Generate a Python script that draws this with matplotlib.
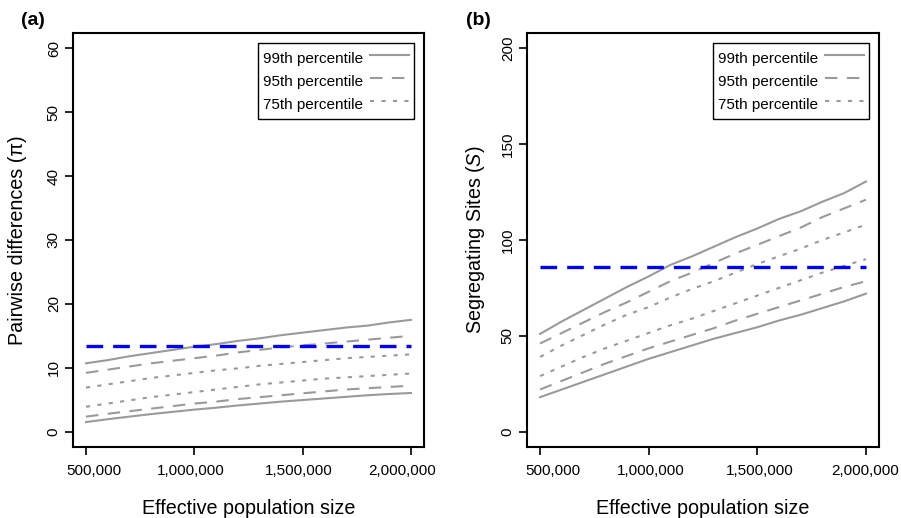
import matplotlib
matplotlib.use("Agg")
import matplotlib.pyplot as plt
import matplotlib.transforms as mtransforms
from matplotlib.lines import Line2D
from matplotlib.ticker import FuncFormatter

plt.rcParams['font.family'] = ['Liberation Sans', 'DejaVu Sans']
plt.rcParams['mathtext.fontset'] = 'custom'
plt.rcParams['mathtext.it'] = 'Liberation Sans:italic'
plt.rcParams['mathtext.rm'] = 'Liberation Sans'

# ---------------- data ----------------
ne = [500000, 600000, 700000, 800000, 900000, 1000000, 1100000, 1200000,
      1300000, 1400000, 1500000, 1600000, 1700000, 1800000, 1900000, 2000000]

# Panel (a): pairwise differences (pi)
pi_99_hi = [10.7, 11.2, 11.8, 12.3, 12.8, 13.3, 13.7, 14.2, 14.6, 15.1, 15.5, 15.9, 16.3, 16.6, 17.1, 17.5]
pi_95_hi = [9.2, 9.7, 10.2, 10.7, 11.1, 11.5, 11.9, 12.4, 12.8, 13.2, 13.5, 13.8, 14.1, 14.4, 14.7, 15.0]
pi_75_hi = [6.9, 7.4, 7.9, 8.4, 8.8, 9.2, 9.6, 9.9, 10.3, 10.6, 10.9, 11.2, 11.5, 11.7, 11.9, 12.1]
pi_75_lo = [3.9, 4.4, 4.9, 5.4, 5.8, 6.2, 6.6, 7.0, 7.4, 7.7, 8.0, 8.3, 8.5, 8.7, 8.9, 9.1]
pi_95_lo = [2.35, 2.8, 3.2, 3.6, 4.0, 4.4, 4.7, 5.1, 5.4, 5.7, 6.0, 6.3, 6.6, 6.8, 7.0, 7.2]
pi_99_lo = [1.5, 1.95, 2.35, 2.75, 3.1, 3.45, 3.75, 4.1, 4.4, 4.7, 4.95, 5.2, 5.45, 5.7, 5.9, 6.05]
pi_observed = 13.4

# Panel (b): segregating sites (S)
s_99_hi = [51, 57.5, 63.5, 69.5, 75.5, 81, 87, 91.5, 96.5, 101.5, 106, 111, 115, 120, 124.5, 130.5]
s_95_hi = [46, 51.5, 57, 62.5, 67.5, 73, 78.5, 83, 88, 93, 97.5, 102, 106.5, 112, 116.5, 121]
s_75_hi = [39, 45, 50.5, 56, 61, 65, 70, 74.5, 78.5, 83, 87.5, 91.5, 95.5, 100, 104, 108]
s_75_lo = [29, 34, 39, 43.5, 47.5, 51.5, 55.5, 59, 63, 67, 71, 75, 79, 83, 86.5, 90]
s_95_lo = [22, 26.5, 31, 35.5, 39.5, 43.5, 47, 50.5, 54, 58, 61.5, 65, 68.5, 72, 75.5, 78.5]
s_99_lo = [18, 22, 26, 30, 34, 38, 41.5, 45, 48.5, 51.5, 54.5, 58, 61, 64.5, 68, 72]
s_observed = 86

legend_labels = ["99th percentile", "95th percentile", "75th percentile"]
xticks = [500000, 1000000, 1500000, 2000000]

# ---------------- style ----------------
GRAY = "#9a9a9a"
BLUE = "#0000ff"
LW = 1.5
ST_SOLID = '-'
ST_DASH = (0, (6, 4.5))
ST_DOT = (0, (2, 3.5))

fig = plt.figure(figsize=(9.01, 5.18), dpi=100)
ax_a = fig.add_axes([73/901, 1-447/518, (424-73)/901, (447-33)/518])
ax_b = fig.add_axes([527/901, 1-447/518, (879-527)/901, (447-33)/518])

def style_axes(ax, ylim, yticks, ylabel, panel, ylab_x, panel_x, xlab_shift):
    ax.set_xlim(440000, 2060000)
    ax.set_ylim(*ylim)
    ax.set_xticks(xticks)
    ax.xaxis.set_major_formatter(FuncFormatter(lambda v, p: f"{int(v):,}"))
    ax.set_yticks(yticks)
    for s in ax.spines.values():
        s.set_linewidth(1.5)
    ax.tick_params(axis='both', length=5.8, width=1.2, labelsize=11)
    ax.tick_params(axis='x', pad=6.5)
    ax.tick_params(axis='y', pad=3)
    for lab in ax.get_yticklabels():
        lab.set_rotation(90)
        lab.set_va('center')
    for lab, dx in zip(ax.get_xticklabels(), xlab_shift):
        lab.set_transform(lab.get_transform() +
                          mtransforms.ScaledTranslation(dx / 100, 0, fig.dpi_scale_trans))
    ax.set_xlabel("Effective population size", fontsize=14.2, labelpad=15)
    ax.set_ylabel(ylabel, fontsize=14.2)
    ax.yaxis.label.set_va('center')
    ax.yaxis.set_label_coords(ylab_x, 0.5)
    ax.text(panel_x, 1.031, panel, transform=ax.transAxes, fontsize=14,
            fontweight='bold', ha='left', va='center')
    handles = [Line2D([], [], color=GRAY, lw=LW, ls=st) for st in (ST_SOLID, ST_DASH, ST_DOT)]
    leg = ax.legend(handles, legend_labels, loc='upper right', fontsize=11,
                    markerfirst=False, frameon=True, fancybox=False,
                    edgecolor='black', framealpha=1, handlelength=2.6,
                    handleheight=1.85, handletextpad=0.45, labelspacing=0.03,
                    borderpad=0.3, borderaxespad=0.65)
    leg.get_frame().set_linewidth(1.0)

def draw(ax, series, obs):
    styles = [ST_SOLID, ST_DASH, ST_DOT, ST_DOT, ST_DASH, ST_SOLID]
    for y, st in zip(series, styles):
        ax.plot(ne, y, color=GRAY, lw=LW, ls=st, dash_capstyle='butt')
    ax.plot([ne[0], ne[-1]], [obs, obs], color=BLUE, lw=2.4,
            ls=(0, (5, 3)), dash_capstyle='butt')

draw(ax_a, [pi_99_hi, pi_95_hi, pi_75_hi, pi_75_lo, pi_95_lo, pi_99_lo], pi_observed)
style_axes(ax_a, (-2.4, 62.4), [0, 10, 20, 30, 40, 50, 60],
           "Pairwise differences (\u03c0)", "(a)", -0.1567, -0.149,
           [8, -4, -4, -9])

draw(ax_b, [s_99_hi, s_95_hi, s_75_hi, s_75_lo, s_95_lo, s_99_lo], s_observed)
style_axes(ax_b, (-8, 208), [0, 50, 100, 150, 200],
           "Segregating Sites ($\\mathit{S}$)", "(b)", -0.1477, -0.173,
           [13, 2, 2, -1])

fig.savefig("out.png", dpi=100)
